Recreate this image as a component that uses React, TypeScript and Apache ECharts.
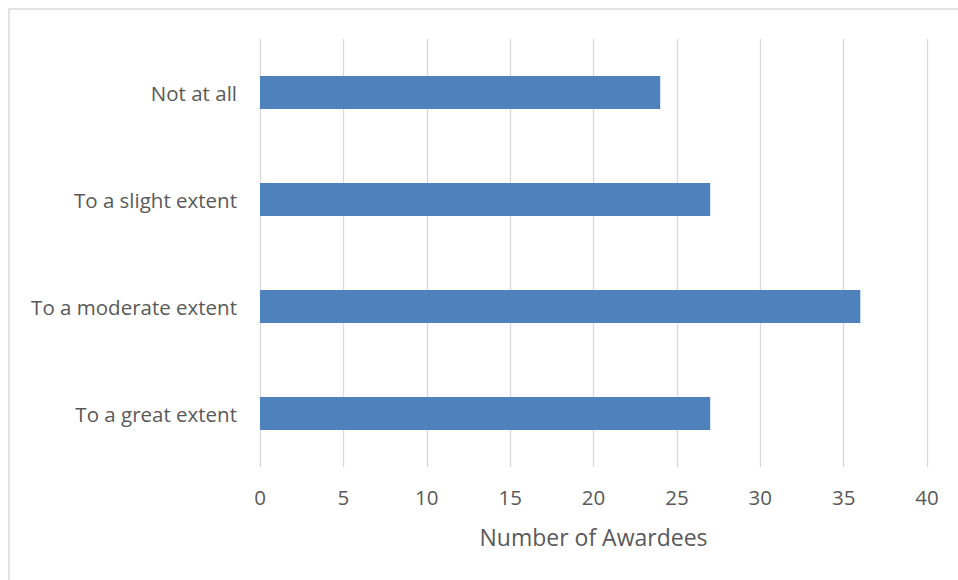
import React, { useEffect, useRef } from "react";
import * as echarts from "echarts";

const categories = ["Not at all", "To a slight extent", "To a moderate extent", "To a great extent"];
const awardees = [24, 27, 36, 27];
const xTicks = { min: 0, max: 40, interval: 5 };
const xTitle = "Number of Awardees";

export default function App() {
  const ref = useRef<HTMLDivElement>(null);
  useEffect(() => {
    if (!ref.current) return;
    const chart = echarts.init(ref.current, null, { renderer: "svg" });
    const font = "'Open Sans', 'Liberation Sans', sans-serif";
    chart.setOption({
      animation: false,
      backgroundColor: "#ffffff",
      graphic: [
        {
          type: "rect",
          shape: { x: 9, y: 9, width: 1000, height: 700 },
          style: { fill: "none", stroke: "#d9d9d9", lineWidth: 1.5 },
          silent: true,
        },
      ],
      grid: { left: 260, right: 31, top: 39, bottom: 113, containLabel: false },
      xAxis: {
        type: "value",
        min: xTicks.min,
        max: xTicks.max,
        interval: xTicks.interval,
        name: xTitle,
        nameLocation: "middle",
        nameGap: 58,
        nameTextStyle: { fontFamily: font, fontSize: 23, color: "#595959" },
        axisLine: { show: false },
        axisTick: { show: false },
        axisLabel: { fontFamily: font, fontSize: 20.5, color: "#595959", margin: 19 },
        splitLine: { show: true, lineStyle: { color: "#d9d9d9", width: 1.3 } },
      },
      yAxis: {
        type: "category",
        data: categories,
        inverse: true,
        axisLine: { show: false },
        axisTick: { show: false },
        axisLabel: { fontFamily: font, fontSize: 20.5, color: "#595959", margin: 23 },
        splitLine: { show: false },
      },
      series: [
        {
          type: "bar",
          data: awardees,
          barWidth: 33,
          itemStyle: { color: "#4f81bd" },
        },
      ],
    });
    return () => chart.dispose();
  }, []);
  return (
    <div
      ref={ref}
      style={{ position: "fixed", left: 0, top: 0, width: 958, height: 580 }}
    />
  );
}
